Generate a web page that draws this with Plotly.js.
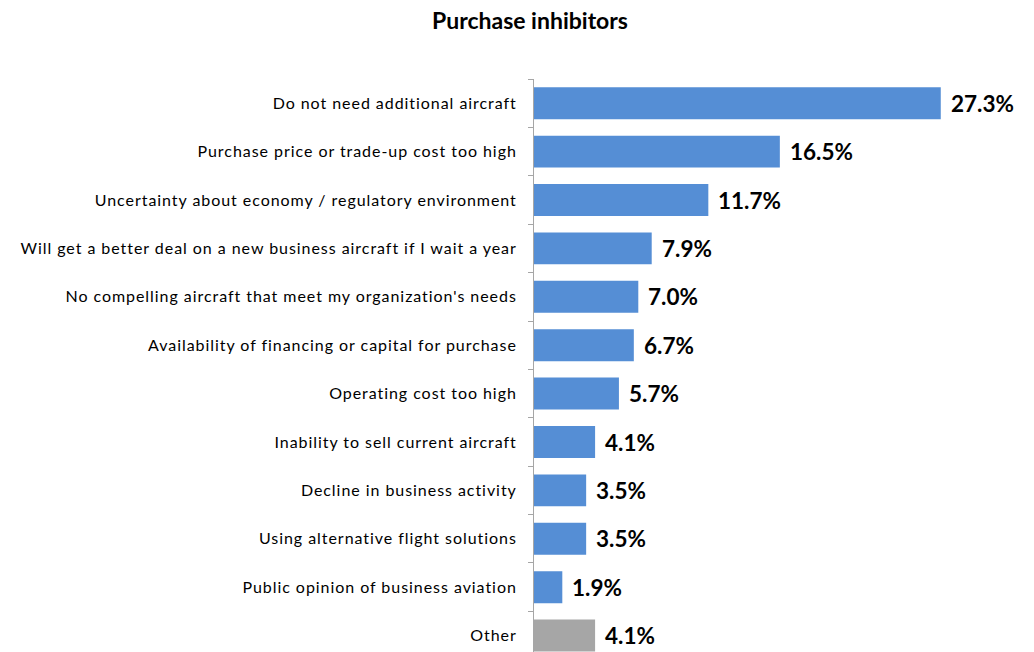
<!DOCTYPE html>
<html>
<head>
<meta charset="utf-8">
<script src="https://cdn.plot.ly/plotly-3.0.1.min.js"></script>
<style>
html,body{margin:0;padding:0;background:#fff;}
#chart{width:1034px;height:652px;}
#chart .ytick text{letter-spacing:0.95px;}
</style>
</head>
<body>
<div id="chart"></div>
<script>
const categories = [
  "Do not need additional aircraft",
  "Purchase price or trade-up cost too high",
  "Uncertainty about economy / regulatory environment",
  "Will get a better deal on a new business aircraft if I wait a year",
  "No compelling aircraft that meet my organization's needs",
  "Availability of financing or capital for purchase",
  "Operating cost too high",
  "Inability to sell current aircraft",
  "Decline in business activity",
  "Using alternative flight solutions",
  "Public opinion of business aviation",
  "Other"
];
const values = [27.3, 16.5, 11.7, 7.9, 7.0, 6.7, 5.7, 4.1, 3.5, 3.5, 1.9, 4.1];
const chartTitle = "Purchase inhibitors";

const BLUE = "#558ED5", GRAY = "#A6A6A6";
const colors = categories.map(c => c === "Other" ? GRAY : BLUE);

const trace = {
  type: "bar",
  orientation: "h",
  y: categories,
  x: values,
  marker: {color: colors},
  cliponaxis: false,
  hoverinfo: "none"
};

const annotations = values.map((v, i) => ({
  x: v, y: categories[i], xref: "x", yref: "y",
  text: "<b>" + v.toFixed(1) + "%</b>",
  showarrow: false, xanchor: "left", yanchor: "middle",
  xshift: 8, yshift: 0,
  font: {family: "Lato, sans-serif", size: 22.5, color: "#000"}
}));

const layout = {
  width: 1034, height: 652,
  margin: {l: 534, r: 53, t: 79, b: 0, pad: 0},
  paper_bgcolor: "#fff", plot_bgcolor: "#fff",
  showlegend: false,
  bargap: 0.34,
  annotations: annotations,
  title: {
    text: "<b>" + chartTitle + "</b>",
    font: {family: "Lato, sans-serif", size: 23, color: "#000"},
    x: 530/1034, xref: "container", xanchor: "center",
    y: 1 - 21/652, yref: "container", yanchor: "middle"
  },
  xaxis: {
    range: [0, 30], showgrid: false, zeroline: false, showline: false,
    showticklabels: false, ticks: "", fixedrange: true
  },
  yaxis: {
    type: "category",
    range: [11.339, -0.5],
    showgrid: false, zeroline: false,
    showline: true, linecolor: "#A6A6A6", linewidth: 1,
    ticks: "outside", tickson: "boundaries", ticklen: 5, tickcolor: "#A6A6A6", tickwidth: 1,
    ticklabelstandoff: 13,
    tickfont: {family: "Lato, sans-serif", size: 16, color: "#000"},
    fixedrange: true
  }
};

Plotly.newPlot("chart", [trace], layout, {displayModeBar: false, staticPlot: true});
</script>
</body>
</html>
